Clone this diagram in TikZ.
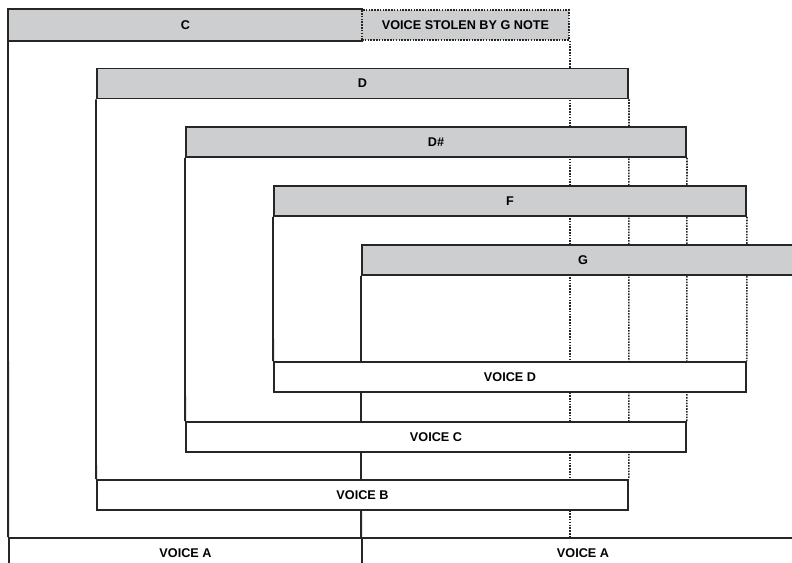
\documentclass[tikz,border=0pt]{standalone}
\usepackage{fontspec}
\setmainfont{Liberation Sans}
\usetikzlibrary{backgrounds}
\definecolor{barfill}{RGB}{205,206,208}
\tikzset{
  notebar/.style={draw=black!85, line width=1.3pt, fill=barfill, inner sep=0pt,
    minimum height=0.75cm, font=\bfseries\fontsize{9}{10}\selectfont},
  stolenbar/.style={notebar, draw=black!85, line width=1.1pt, dash pattern=on 1.1pt off 0.9pt},
  voicebox/.style={draw=black!85, line width=1.2pt, fill=white, inner sep=0pt,
    minimum height=0.75cm, font=\bfseries\fontsize{9}{10}\selectfont},
  hold/.style={black!85, line width=1.3pt},
  release/.style={black!85, line width=1.1pt, dash pattern=on 1.1pt off 0.9pt},
}

\begin{document}
\begin{tikzpicture}[x=0.025cm, y=-0.025cm]
  \useasboundingbox (0,0) rectangle (792,562);

  %% ---- note bars ----
  \node[notebar, draw=none, minimum width=8.825cm] (c) at (185.5, 25) {C};
  \draw[black!85, line width=1.3pt] (c.north east) -- (c.north west) -- (c.south west) -- (c.south east);
  \node[stolenbar, minimum width=5.175cm] (st) at (465.5, 25) {VOICE STOLEN BY G NOTE};

  \node[notebar, minimum width=13.275cm] (d)  at (362.5, 83.5) {D};
  \node[notebar, minimum width=12.5cm]   (ds) at (436,   142)  {D\#};
  \node[notebar, minimum width=11.8cm]   (f)  at (510,   201)  {F};
  \node[notebar, minimum width=11.05cm]  (g)  at (583,   260)  {G};

  %% ---- voices ----
  \node[voicebox, minimum width=11.8cm]   (vd)  at (510,   377) {VOICE D};
  \node[voicebox, minimum width=12.5cm]   (vc)  at (436,   437) {VOICE C};
  \node[voicebox, minimum width=13.275cm] (vb)  at (362.5, 495) {VOICE B};
  \node[voicebox, minimum width=8.825cm]  (va1) at (185.5, 553) {VOICE A};
  \node[voicebox, minimum width=11.05cm]  (va2) at (583,   553) {VOICE A};

  %% ---- held and released notes ----
  \begin{scope}[on background layer]
    \draw[hold] (c.south west)  -- (va1.north west);
    \draw[hold] (d.south west)  -- (vb.north west);
    \draw[hold] (ds.south west) -- (vc.north west);
    \draw[hold] (f.south west)  -- (vd.north west);
    \draw[hold] (g.south west)  -- (va2.north west);

    \draw[release] (st.south east) -- (st.south east |- va2.north);
    \draw[release] (d.south east)  -- (vb.north east);
    \draw[release] (ds.south east) -- (vc.north east);
    \draw[release] (f.south east)  -- (vd.north east);
  \end{scope}

\end{tikzpicture}
\end{document}
